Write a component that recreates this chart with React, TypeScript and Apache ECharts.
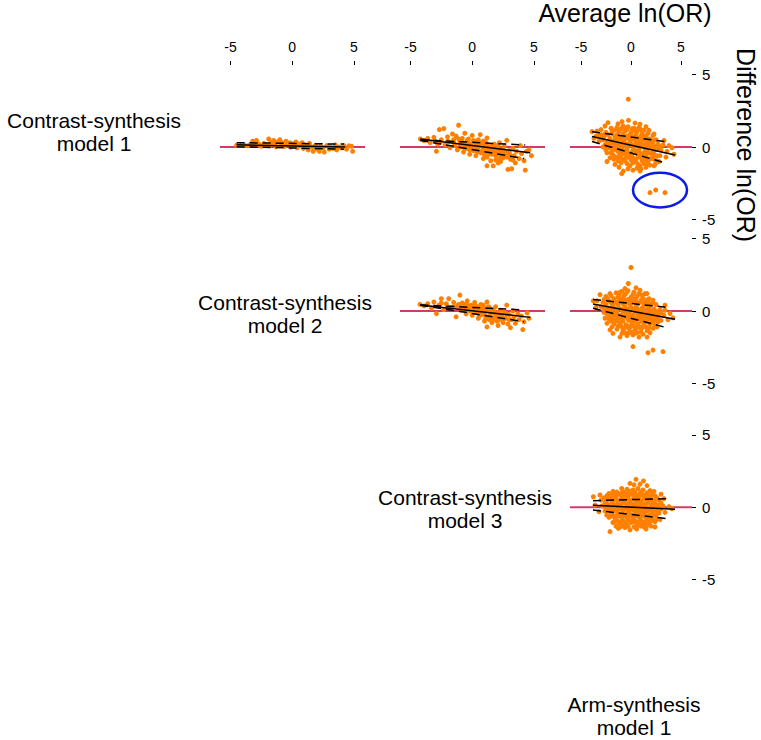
import React, { useEffect, useRef } from "react";
import * as echarts from "echarts";

// ---------- data ----------
const xTicks = [-5, 0, 5];
const yTicks = [-5, 0, 5];
const modelLabels = [
  "Contrast-synthesis\nmodel 1",
  "Contrast-synthesis\nmodel 2",
  "Contrast-synthesis\nmodel 3",
  "Arm-synthesis\nmodel 1",
];
const xTitle = "Average ln(OR)";
const yTitle = "Difference ln(OR)";

// row 1 (Contrast-synthesis model 1) vs columns 2..4
const p11 = [
  [-4.5,0.12],[-4.2,0.1],[-3.9,0.14],[-3.6,0.08],[-3.4,0.18],[-3.2,0.4],[-3.0,0.12],[-2.9,0.45],[-2.7,0.2],[-2.5,0.05],
  [-2.3,0.25],[-2.1,0.15],[-1.9,0.55],[-1.8,0.1],[-1.7,0.3],[-1.5,0.45],[-1.4,0.2],[-1.3,0.02],[-1.2,0.35],[-1.0,0.5],
  [-0.9,0.15],[-0.8,0.28],[-0.6,0.05],[-0.5,0.4],[-0.4,0.18],[-0.2,0.3],[-0.1,0.0],[0.0,0.22],[0.2,0.1],[0.3,0.35],
  [0.4,-0.05],[0.5,0.2],[0.7,0.08],[0.8,0.3],[0.9,-0.1],[1.0,0.15],[1.2,0.05],[1.3,-0.2],[1.4,0.25],[1.6,0.0],
  [1.7,-0.3],[1.9,0.12],[2.0,-0.12],[2.2,-0.3],[2.3,0.05],[2.5,-0.05],[2.6,-0.35],[2.8,0.1],[3.0,-0.15],[3.1,0.02],
  [3.3,-0.1],[3.5,0.15],[3.6,-0.2],[3.8,0.0],[4.0,-0.05],[4.2,0.1],[4.4,-0.15],[4.6,0.08],[4.9,-0.3],[4.8,0.05],
];
const p12 = [
  [-4.2,0.55],[-3.9,0.45],[-3.6,0.6],[-3.4,0.3],[-3.1,0.67],[-3.0,0.4],[-2.9,-0.3],[-2.8,0.2],[-2.66,1.2],[-2.5,0.5],
  [-2.3,1.27],[-2.2,0.15],[-2.0,0.7],[-1.9,0.35],[-1.8,-0.05],[-1.6,0.9],[-1.5,0.5],[-1.4,0.1],[-1.3,0.75],[-1.2,-0.2],
  [-1.1,1.5],[-1.0,0.4],[-0.9,0.0],[-0.8,0.6],[-0.7,-0.35],[-0.6,0.95],[-0.5,0.25],[-0.4,-0.1],[-0.3,0.55],[-0.2,-0.5],
  [-0.1,0.2],[0.0,0.8],[0.1,-0.25],[0.2,0.35],[0.3,-0.6],[0.4,0.05],[0.5,0.5],[0.65,0.85],[0.7,-0.4],[0.8,0.15],
  [0.9,-0.8],[1.0,-0.1],[1.1,0.3],[1.2,0.62],[1.2,-1.3],[1.3,-0.5],[1.4,0.0],[1.5,-0.95],[1.6,-0.25],[1.7,-1.3],
  [1.8,0.2],[1.9,-0.6],[2.0,-0.1],[2.1,-1.1],[2.2,0.3],[2.3,-1.0],[2.4,-0.4],[2.5,-0.75],[2.6,0.05],[2.7,-0.5],
  [2.8,0.46],[2.9,-1.55],[3.0,-0.25],[3.1,-0.85],[3.2,-1.5],[3.3,-0.1],[3.4,-0.6],[3.5,-1.1],[3.6,-0.3],[3.8,-0.8],
  [3.9,0.1],[4.0,-0.45],[4.2,-0.95],[4.3,-1.6],[4.4,-0.3],[4.6,-0.2],[4.8,-0.6],
  [-1.0,0.2],[-0.8,0.35],[-0.5,0.1],[-0.3,0.3],[0.0,0.0],[0.2,-0.1],[0.3,0.2],[0.5,-0.2],[0.6,0.1],[0.8,-0.3],
  [1.0,0.1],[1.1,-0.4],[1.3,-0.15],[1.5,-0.4],[1.6,0.1],[1.8,-0.3],[2.0,-0.5],[2.2,-0.2],[2.4,-0.6],[2.6,-0.3],
  [-0.2,-0.2],[0.4,0.4],[1.2,-0.7],[1.9,-0.9],[0.9,0.4],[-0.6,-0.1],[2.8,-0.7],[3.0,-0.4],
  [-1.5,0.3],[-1.1,0.55],[-0.7,0.2],[-0.4,0.45],[0.1,0.45],[0.3,0.0],[0.7,0.25],[0.9,-0.05],[1.2,0.2],[1.4,-0.25],
  [1.7,-0.1],[1.9,-0.4],[2.1,0.05],[2.3,-0.45],[2.5,-0.15],[2.8,-0.35],[3.1,-0.6],[3.3,-0.9],[0.4,-0.35],[1.0,-0.55],
  [1.6,-0.5],[2.2,-0.8],[-2.0,0.4],[-2.6,0.3],
];
const p13 = [
  [-3.9,1.06],[-3.4,1.1],[-3.0,1.2],[-3.7,0.6],[-3.0,0.85],[-2.6,1.45],[-2.3,1.68],[-1.3,1.6],[-0.9,1.75],[-0.25,1.84],
  [-0.27,3.3],[0.4,1.65],[0.9,1.57],[1.5,1.4],[1.8,1.15],[2.3,0.9],[3.3,0.45],[3.8,0.1],[4.1,-0.05],[4.3,-0.5],
  [3.5,-0.7],[2.8,-1.0],[2.3,-1.3],[0.9,-1.66],[-0.93,-1.84],[-2.4,-1.0],[-2.4,-0.4],
  [-2.0,1.3],[-1.4,1.35],[-0.8,1.45],[-0.3,1.4],[0.3,1.3],[0.8,1.35],[1.3,1.15],
  [-2.5,1.0],[-1.9,0.95],[-1.2,1.05],[-0.6,1.1],[0.0,1.0],[0.6,1.05],[1.1,0.9],[1.7,0.95],[2.2,0.8],
  [-3.5,0.75],[-2.7,0.7],[-2.1,0.6],[-1.6,0.72],[-1.0,0.65],[-0.4,0.75],[0.2,0.7],[0.7,0.6],[1.3,0.68],[1.9,0.55],[2.5,0.5],
  [-3.2,0.4],[-2.4,0.3],[-1.8,0.38],[-1.3,0.3],[-0.7,0.4],[-0.1,0.32],[0.5,0.3],[1.0,0.35],[1.5,0.25],[2.1,0.3],[2.7,0.2],[3.2,0.15],
  [-2.8,0.0],[-2.2,-0.05],[-1.5,0.05],[-0.9,-0.05],[-0.3,0.02],[0.3,-0.05],[0.9,0.0],[1.4,-0.1],[2.0,-0.05],[2.6,-0.15],[3.0,-0.2],[3.6,-0.3],
  [-1.9,-0.3],[-1.2,-0.4],[-0.6,-0.3],[0.0,-0.4],[0.6,-0.35],[1.2,-0.45],[1.7,-0.38],[2.3,-0.5],[2.9,-0.6],
  [-2.1,-0.75],[-1.5,-0.7],[-0.9,-0.8],[-0.3,-0.7],[0.3,-0.8],[0.8,-0.7],[1.4,-0.85],[2.0,-0.8],[2.6,-0.95],
  [-1.6,-1.2],[-1.0,-1.1],[-0.4,-1.15],[0.2,-1.1],[0.7,-1.2],[1.3,-1.15],[1.9,-1.25],[2.4,-1.2],
  [-0.77,-1.66],[-0.3,-1.5],[0.2,-1.6],[0.6,-1.45],[1.0,-1.5],[1.5,-1.4],
  [-1.7,1.15],[-1.0,1.25],[-0.4,1.2],[0.3,1.15],[1.0,1.2],
  [-2.3,0.85],[-1.4,0.85],[-0.8,0.9],[-0.1,0.85],[0.5,0.85],[1.0,0.75],[1.5,0.8],
  [-2.8,0.5],[-1.5,0.5],[-0.9,0.5],[-0.2,0.55],[0.4,0.5],[0.8,0.45],[1.2,0.5],[1.7,0.4],[2.3,0.45],
  [-2.6,0.15],[-2.0,0.2],[-1.1,0.15],[-0.5,0.2],[0.1,0.15],[0.7,0.15],[1.2,0.1],[1.8,0.1],[2.4,0.05],
  [-2.5,-0.2],[-1.7,-0.15],[-1.0,-0.22],[-0.4,-0.15],[0.2,-0.2],[0.8,-0.2],[1.6,-0.25],[2.3,-0.25],
  [-1.8,-0.55],[-1.1,-0.6],[-0.5,-0.5],[0.1,-0.55],[0.7,-0.55],[1.5,-0.6],[2.2,-0.65],
  [-1.3,-0.95],[-0.6,-0.95],[0.0,-0.9],[0.5,-1.0],[1.1,-0.95],[1.7,-1.0],
  [-1.2,-1.4],[-0.1,-1.3],[0.9,-1.3],[1.6,-1.15],
  [-2.9,0.6],[-2.2,0.45],[-1.6,0.55],[-1.2,0.6],[-0.6,0.6],[0.0,0.5],[0.6,0.55],[1.1,0.55],[1.6,0.6],[2.0,0.42],
  [-2.3,0.1],[-1.6,0.22],[-1.2,0.05],[-0.7,0.1],[-0.2,0.18],[0.4,0.15],[1.0,0.15],[1.5,0.05],[2.2,0.15],[2.9,0.0],
  [-2.0,-0.4],[-1.4,-0.25],[-0.8,-0.45],[-0.2,-0.45],[0.4,-0.25],[0.9,-0.45],[1.4,-0.3],[2.0,-0.45],[2.6,-0.6],
  [-1.7,-0.85],[-1.2,-0.75],[-0.6,-0.8],[0.0,-0.75],[0.5,-0.85],[1.1,-0.75],[1.7,-0.8],[2.3,-0.85],
  [-1.3,1.2],[-0.5,1.3],[0.1,1.25],[0.6,1.2],[-1.9,1.1],[-2.6,0.9],[-3.2,0.8],
  [1.9,-3.15],[2.47,-2.97],[3.4,-3.15],
];
// row 2 (Contrast-synthesis model 2)
const p22 = [
  [-4.23,0.46],[-3.9,0.35],[-3.6,0.5],[-3.3,0.2],[-3.1,0.62],[-2.9,-0.18],[-2.7,0.4],[-2.5,0.85],[-2.3,0.1],[-2.1,0.5],
  [-1.9,0.85],[-1.7,0.25],[-1.5,0.6],[-1.3,-0.4],[-1.2,0.35],[-1.0,1.1],[-0.9,0.05],[-0.8,0.55],[-0.6,0.25],[-0.5,-0.2],
  [-0.4,0.7],[-0.3,0.1],[-0.1,0.4],[0.0,-0.3],[0.1,0.15],[0.2,0.6],[0.3,-0.1],[0.4,0.3],[0.5,-0.5],[0.6,0.05],
  [0.7,0.45],[0.8,-0.25],[0.9,0.2],[1.0,-0.7],[1.1,0.0],[1.2,0.62],[1.2,-1.1],[1.3,-0.4],[1.4,0.25],[1.5,-0.15],
  [1.6,-0.8],[1.7,0.1],[1.8,-0.45],[1.9,0.3],[2.0,-0.2],[2.1,-1.0],[2.2,-0.6],[2.3,0.05],[2.4,-0.35],[2.5,-0.8],
  [2.6,-0.1],[2.7,-0.5],[2.8,0.4],[2.9,-0.9],[3.0,-0.25],[3.1,-1.15],[3.2,-0.6],[3.3,0.0],[3.4,-0.4],[3.5,-0.85],
  [3.7,-0.2],[3.8,-0.6],[4.0,-0.35],[4.1,-1.28],[4.2,-0.75],[4.45,-0.13],[4.6,-0.5],
  [-1.0,0.3],[-0.7,0.1],[-0.2,0.2],[0.0,0.05],[0.3,0.3],[0.5,0.0],[0.8,0.1],[1.0,-0.2],[1.3,0.0],[1.5,-0.4],
  [1.8,-0.1],[2.0,-0.5],[2.3,-0.3],[2.6,-0.5],[0.6,-0.3],[-0.4,0.4],[1.1,-0.5],[1.7,-0.6],
  [-1.5,0.3],[-1.1,0.45],[-0.6,0.45],[-0.2,0.0],[0.2,0.4],[0.5,0.2],[0.9,0.4],[1.0,0.1],[1.3,0.3],[1.6,-0.05],
  [1.9,-0.25],[2.1,-0.1],[2.4,-0.55],[2.8,-0.2],[3.0,-0.6],[0.7,-0.1],[1.4,-0.6],[2.0,-0.7],[-2.0,0.3],[-2.5,0.55],
];
const p23 = [
  [0.0,3.0],[-0.27,1.9],[0.5,1.6],[-0.6,1.55],[-1.1,1.3],[-2.1,1.2],[1.6,1.2],[2.2,0.74],[3.4,0.4],[3.9,-0.17],
  [4.2,-0.47],[3.7,-0.6],[-3.77,0.7],[-3.5,0.25],[-2.6,-0.5],[-2.4,-0.85],[-2.1,-1.3],[-1.8,-1.55],[-1.1,-1.8],
  [0.2,-2.46],[1.7,-2.88],[2.2,-2.7],[3.2,-2.8],[2.6,-1.1],
  [-1.5,1.25],[-0.9,1.35],[-0.3,1.4],[0.3,1.3],[0.9,1.43],[1.4,1.2],
  [-3.1,1.13],[-2.5,1.0],[-2.0,1.05],[-1.3,0.95],[-0.7,1.05],[0.0,0.95],[0.6,1.0],[1.2,0.9],[1.8,0.85],
  [-3.4,0.7],[-2.8,0.6],[-2.2,0.7],[-1.6,0.6],[-1.0,0.68],[-0.4,0.6],[0.2,0.65],[0.8,0.55],[1.4,0.6],[2.0,0.5],[2.5,0.45],
  [-3.0,0.3],[-2.4,0.25],[-1.8,0.32],[-1.2,0.22],[-0.6,0.3],[0.0,0.25],[0.5,0.3],[1.1,0.2],[1.7,0.25],[2.3,0.15],[2.9,0.1],[3.4,0.05],
  [-2.7,-0.1],[-2.0,0.0],[-1.4,-0.1],[-0.8,-0.05],[-0.2,-0.1],[0.4,-0.05],[1.0,-0.15],[1.6,-0.1],[2.2,-0.2],[2.8,-0.25],[3.3,-0.3],
  [-1.9,-0.45],[-1.3,-0.5],[-0.6,-0.4],[0.0,-0.5],[0.6,-0.45],[1.2,-0.55],[1.8,-0.5],[2.4,-0.6],[3.0,-0.65],
  [-1.7,-0.9],[-1.1,-0.85],[-0.5,-0.95],[0.1,-0.85],[0.7,-0.9],[1.3,-0.95],[1.9,-0.9],
  [-1.4,-1.25],[-0.8,-1.3],[-0.2,-1.2],[0.4,-1.3],[1.0,-1.25],[1.6,-1.35],[2.2,-1.2],
  [-0.4,-1.7],[0.2,-1.65],[0.8,-1.8],[1.6,-1.8],[1.2,-1.6],
  [-1.2,1.15],[-0.5,1.2],[0.2,1.15],[0.8,1.2],[1.1,1.1],
  [-2.4,0.85],[-1.7,0.85],[-1.0,0.85],[-0.3,0.8],[0.4,0.85],[1.0,0.75],[1.6,0.75],
  [-2.5,0.45],[-1.9,0.5],[-1.3,0.45],[-0.8,0.5],[-0.1,0.45],[0.6,0.45],[1.3,0.4],[1.9,0.35],
  [-2.3,0.1],[-1.6,0.12],[-0.9,0.1],[-0.3,0.12],[0.3,0.1],[0.8,0.05],[1.4,0.05],[2.0,0.0],[2.6,-0.05],
  [-2.2,-0.3],[-1.6,-0.28],[-1.0,-0.3],[-0.3,-0.28],[0.2,-0.3],[0.9,-0.32],[1.5,-0.35],[2.1,-0.4],[2.7,-0.45],
  [-2.0,-0.7],[-1.4,-0.68],[-0.8,-0.7],[-0.2,-0.65],[0.4,-0.7],[1.0,-0.7],[1.6,-0.72],[2.2,-0.8],
  [-1.0,-1.05],[-0.3,-1.05],[0.3,-1.05],[0.9,-1.1],[1.5,-1.1],
  [-0.6,-1.5],[0.0,-1.45],[0.6,-1.5],
  [-2.7,0.8],[-2.0,0.6],[-1.3,0.65],[-0.7,0.75],[-0.1,0.7],[0.5,0.7],[1.1,0.65],[1.7,0.6],[2.2,0.55],
  [-2.7,0.15],[-2.0,0.2],[-1.4,0.1],[-0.6,0.15],[0.0,0.05],[0.6,0.15],[1.2,0.05],[1.8,0.1],[2.4,0.0],[3.0,-0.1],
  [-2.4,-0.2],[-1.8,-0.2],[-1.2,-0.35],[-0.5,-0.2],[0.1,-0.35],[0.7,-0.2],[1.3,-0.3],[1.9,-0.3],[2.5,-0.35],
  [-2.2,-0.55],[-1.6,-0.6],[-0.9,-0.55],[-0.3,-0.55],[0.3,-0.6],[0.9,-0.55],[1.5,-0.55],[2.1,-0.6],[2.7,-0.75],
  [-1.9,-1.1],[-1.3,-1.05],[-0.6,-1.15],[0.0,-1.05],[0.6,-1.15],[1.2,-1.1],[1.8,-1.15],[2.4,-1.0],
  [-0.9,-1.55],[-0.2,-1.5],[0.4,-1.55],[1.0,-1.45],[1.9,-1.5],
];
// row 3 (Contrast-synthesis model 3)
const p33 = [
  [0.5,1.93],[1.25,1.82],[-0.1,1.65],[1.6,1.5],[0.3,1.55],[0.9,1.6],[2.3,1.1],[3.0,0.9],[3.3,0.6],[4.1,-0.1],
  [-3.77,0.73],[-3.1,0.85],[-3.6,0.15],[-2.43,-0.53],[-2.1,-1.68],[-1.27,-1.45],[-0.1,-1.56],[0.57,-1.5],[1.5,-1.5],
  [2.4,-1.36],[2.9,-0.85],
  [-1.8,1.1],[-0.93,1.3],[-0.4,1.25],[0.2,1.2],[0.7,1.3],[1.2,1.2],[1.9,1.15],
  [-2.4,0.8],[-1.8,0.85],[-1.2,0.9],[-0.6,0.85],[0.0,0.9],[0.6,0.8],[1.1,0.85],[1.7,0.8],[2.4,0.8],
  [-3.0,0.5],[-2.5,0.45],[-1.9,0.5],[-1.3,0.45],[-0.7,0.5],[-0.1,0.45],[0.5,0.5],[1.0,0.4],[1.6,0.5],[2.2,0.45],[2.8,0.5],
  [-2.9,0.1],[-2.2,0.05],[-1.6,0.12],[-1.0,0.05],[-0.4,0.1],[0.2,0.08],[0.8,0.0],[1.4,0.1],[2.0,0.05],[2.6,0.0],[3.2,0.1],[3.8,0.05],
  [-3.2,-0.3],[-2.6,-0.25],[-2.0,-0.35],[-1.4,-0.3],[-0.8,-0.25],[-0.2,-0.35],[0.4,-0.3],[1.0,-0.35],[1.6,-0.25],[2.2,-0.3],[2.8,-0.4],[3.4,-0.35],
  [-2.2,-0.7],[-1.6,-0.75],[-1.0,-0.65],[-0.4,-0.7],[0.2,-0.75],[0.8,-0.7],[1.4,-0.65],[2.0,-0.75],[2.6,-0.8],
  [-1.8,-1.05],[-1.2,-1.1],[-0.6,-1.15],[0.0,-1.05],[0.6,-1.1],[1.2,-1.15],[1.8,-1.05],[2.4,-1.0],
  [-0.6,-1.4],[1.0,-1.3],
  [-1.4,1.05],[-0.7,1.05],[-0.1,1.1],[0.4,1.05],[1.0,1.05],[1.6,1.0],
  [-2.7,0.65],[-2.1,0.65],[-1.5,0.7],[-0.9,0.68],[-0.3,0.7],[0.3,0.65],[0.8,0.62],[1.4,0.65],[2.0,0.62],[2.6,0.65],
  [-2.6,0.28],[-1.9,0.3],[-1.3,0.25],[-0.7,0.3],[-0.1,0.28],[0.5,0.25],[1.1,0.22],[1.7,0.3],[2.4,0.25],[3.0,0.3],
  [-2.5,-0.1],[-1.9,-0.12],[-1.2,-0.1],[-0.6,-0.08],[0.0,-0.12],[0.5,-0.1],[1.1,-0.15],[1.8,-0.1],[2.4,-0.15],[3.0,-0.12],
  [-1.8,-0.52],[-1.2,-0.5],[-0.5,-0.5],[0.1,-0.55],[0.7,-0.5],[1.3,-0.45],[1.9,-0.5],[2.5,-0.55],
  [-1.4,-0.9],[-0.8,-0.88],[-0.2,-0.9],[0.4,-0.92],[1.0,-0.9],[1.6,-0.88],[2.2,-0.9],
  [-1.5,-1.3],[-0.9,-1.3],[0.3,-1.35],[1.6,-1.25],
  [-2.2,0.95],[-1.5,0.95],[-0.9,1.0],[-0.3,0.95],[0.3,0.95],[0.9,0.95],[1.4,0.85],[2.1,0.9],
  [-2.3,0.55],[-1.6,0.55],[-1.0,0.55],[-0.4,0.55],[0.2,0.55],[0.8,0.5],[1.3,0.55],[1.9,0.5],[2.5,0.55],
  [-2.3,0.2],[-1.7,0.2],[-1.0,0.2],[-0.4,0.2],[0.2,0.2],[0.8,0.18],[1.4,0.2],[2.1,0.2],[2.7,0.15],
  [-2.2,-0.2],[-1.6,-0.2],[-0.9,-0.15],[-0.3,-0.2],[0.3,-0.2],[0.8,-0.25],[1.4,-0.2],[2.0,-0.2],[2.6,-0.25],
  [-2.0,-0.6],[-1.4,-0.6],[-0.8,-0.6],[-0.2,-0.6],[0.4,-0.6],[1.0,-0.6],[1.6,-0.6],[2.2,-0.6],
  [-1.6,-0.95],[-1.0,-1.0],[-0.4,-1.0],[0.2,-1.0],[0.8,-1.0],[1.4,-1.0],[2.0,-0.95],
  [-1.1,-1.35],[-0.3,-1.3],[0.6,-1.25],[1.3,-1.35],[2.0,-1.3],
];

// regression line (solid) and limits of agreement (dashed): [start, end]
const mean11 = [[-4.5,0.15],[4.3,0.0]];
const upper11 = [[-4.5,0.3],[4.2,0.2]];
const lower11 = [[-4.5,0.02],[4.2,-0.15]];
const mean12 = [[-4.2,0.55],[4.7,-0.4]];
const upper12 = [[-4.2,0.5],[4.3,0.14]];
const lower12 = [[-4.2,0.45],[4.2,-0.8]];
const mean13 = [[-3.9,0.72],[4.4,-0.55]];
const upper13 = [[-3.9,1.05],[3.6,0.35]];
const lower13 = [[-3.9,0.38],[3.4,-1.1]];
const mean22 = [[-4.2,0.42],[4.7,-0.44]];
const upper22 = [[-4.2,0.42],[4.2,0.07]];
const lower22 = [[-4.2,0.4],[4.2,-0.74]];
const mean23 = [[-3.8,0.48],[4.4,-0.57]];
const upper23 = [[-3.8,0.8],[3.6,0.25]];
const lower23 = [[-3.8,0.19],[3.4,-1.12]];
const mean33 = [[-3.8,0.14],[4.4,-0.14]];
const upper33 = [[-3.8,0.46],[3.9,0.6]];
const lower33 = [[-3.8,-0.19],[3.7,-0.79]];

// highlighted cluster (centre and half-axes, data units) in row 1 / column 4
const highlightCentre = [2.9, -2.97];
const highlightRadii = [2.7, 1.2];

// axis ranges
const xRangeWide = [-5.85, 5.9];
const xRangeLast = [-6.1, 6.1];
const yRange = [-5.66, 5.66];

// ---------- layout ----------
const FONT = "'Liberation Sans', Arial, Helvetica, sans-serif";
const ORANGE = "#ff8000";
const RED = "#d23c64";

type Panel = {
  left: number; top: number; width: number; height: number;
  xr: number[]; row: number; lastCol: boolean;
  pts: number[][]; mean: number[][]; upper: number[][]; lower: number[][];
};

const panels: Panel[] = [
  { left: 220, top: 65, width: 145, height: 164, xr: xRangeWide, row: 0, lastCol: false, pts: p11, mean: mean11, upper: upper11, lower: lower11 },
  { left: 400, top: 65, width: 145, height: 164, xr: xRangeWide, row: 0, lastCol: false, pts: p12, mean: mean12, upper: upper12, lower: lower12 },
  { left: 570, top: 65, width: 122, height: 164, xr: xRangeLast, row: 0, lastCol: true, pts: p13, mean: mean13, upper: upper13, lower: lower13 },
  { left: 400, top: 229, width: 145, height: 164, xr: xRangeWide, row: 1, lastCol: false, pts: p22, mean: mean22, upper: upper22, lower: lower22 },
  { left: 570, top: 229, width: 122, height: 164, xr: xRangeLast, row: 1, lastCol: true, pts: p23, mean: mean23, upper: upper23, lower: lower23 },
  { left: 570, top: 425.3, width: 122, height: 164, xr: xRangeLast, row: 2, lastCol: true, pts: p33, mean: mean33, upper: upper33, lower: lower33 },
];

const labelPos = [
  [94, 132],
  [285, 314],
  [465, 509],
  [634, 716],
];

export default function App() {
  const ref = useRef<HTMLDivElement>(null);
  useEffect(() => {
    if (!ref.current) return;
    document.body.style.margin = "0";
    const chart = echarts.init(ref.current, undefined, { renderer: "svg" });

    const grid = panels.map((p) => ({ left: p.left, top: p.top, width: p.width, height: p.height, containLabel: false }));
    const xAxis = panels.map((p, i) => ({
      gridIndex: i,
      type: "value",
      min: p.xr[0],
      max: p.xr[1],
      position: "top",
      show: p.row === 0,
      axisLine: { show: false, onZero: false },
      axisTick: { show: true, length: 4, customValues: xTicks, lineStyle: { color: "#000", width: 1 } },
      axisLabel: { customValues: xTicks, fontSize: 14, margin: 11, color: "#000", fontFamily: FONT },
      splitLine: { show: false },
    }));
    const yAxis = panels.map((p, i) => ({
      gridIndex: i,
      type: "value",
      min: yRange[0],
      max: yRange[1],
      position: "right",
      show: p.lastCol,
      axisLine: { show: false, onZero: false },
      axisTick: { show: true, length: 4, customValues: yTicks, lineStyle: { color: "#000", width: 1 } },
      axisLabel: { customValues: yTicks, fontSize: 15, margin: 10, color: "#000", fontFamily: FONT, align: "left" },
      splitLine: { show: false },
    }));

    const series: any[] = [];
    panels.forEach((p, i) => {
      series.push({
        type: "line", xAxisIndex: i, yAxisIndex: i, silent: true, z: 1,
        data: [[p.xr[0], 0], [p.xr[1], 0]], symbol: "none",
        lineStyle: { color: RED, width: 2 },
      });
      series.push({
        type: "scatter", xAxisIndex: i, yAxisIndex: i, z: 2,
        data: p.pts, symbol: "circle", symbolSize: 5,
        itemStyle: { color: ORANGE, opacity: 1 },
      });
      const lineDefs: [number[][], any][] = [
        [p.mean, "solid"],
        [p.upper, [8, 5]],
        [p.lower, [8, 5]],
      ];
      lineDefs.forEach(([d, t]) => {
        series.push({
          type: "line", xAxisIndex: i, yAxisIndex: i, silent: true, z: 3,
          data: d, symbol: "none",
          lineStyle: { color: "#000", width: 1.5, type: t },
        });
      });
    });

    chart.setOption({
      animation: false,
      backgroundColor: "#fff",
      grid,
      xAxis,
      yAxis,
      series,
    });

    const c = chart.convertToPixel({ xAxisIndex: 2, yAxisIndex: 2 }, highlightCentre) as number[];
    const e = chart.convertToPixel({ xAxisIndex: 2, yAxisIndex: 2 }, [
      highlightCentre[0] + highlightRadii[0],
      highlightCentre[1] + highlightRadii[1],
    ]) as number[];

    const textStyle = (text: string, size: number, lh: number, va: string) => ({
      text, fontSize: size, fontFamily: FONT, fill: "#000",
      align: "center", verticalAlign: va, textAlign: "center", textVerticalAlign: va,
      lineHeight: lh,
    });

    const graphic: any[] = [
      { type: "text", x: 625, y: 0, style: textStyle(xTitle, 25, 25, "top") },
      { type: "text", x: 746, y: 145, rotation: -Math.PI / 2, style: textStyle(yTitle, 25, 25, "middle") },
      ...modelLabels.map((t, i) => ({ type: "text", x: labelPos[i][0], y: labelPos[i][1], style: textStyle(t, 21, 23, "middle") })),
      {
        type: "ellipse", z: 10,
        shape: { cx: c[0], cy: c[1], rx: Math.abs(e[0] - c[0]), ry: Math.abs(c[1] - e[1]) },
        style: { fill: "none", stroke: "#0a1be6", lineWidth: 2.5 },
      },
    ];
    chart.setOption({ graphic });

    return () => chart.dispose();
  }, []);
  return <div ref={ref} style={{ position: "absolute", left: 0, top: 0, width: 761, height: 740 }} />;
}
